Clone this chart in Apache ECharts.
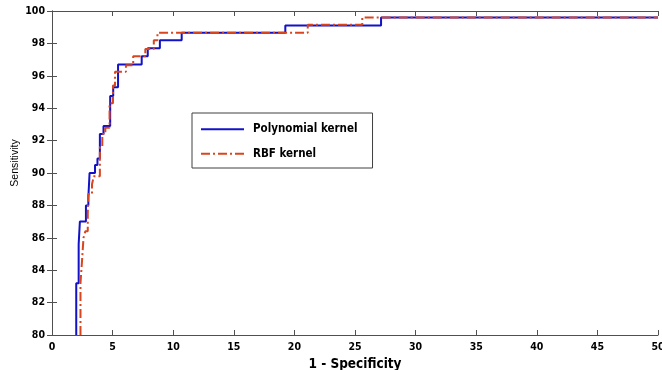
<!DOCTYPE html>
<html>
<head>
<meta charset="utf-8">
<script src="https://cdn.jsdelivr.net/npm/echarts@6/dist/echarts.min.js"></script>
<style>
html,body{margin:0;padding:0;background:#fff;}
#c{width:662px;height:370px;}
</style>
</head>
<body>
<div id="c"></div>
<script>
// Data (step corners: x = 1 - specificity, y = sensitivity)
const polyX = [2.0, 2.0, 2.2, 2.3, 2.8, 3.0, 3.1, 3.55, 3.75, 3.95, 4.25, 4.8, 5.05, 5.45, 7.4, 7.9, 8.9, 10.7, 19.25, 27.15, 50];
const polyY = [80, 83.2, 85.6, 87.0, 88.0, 88.5, 90.0, 90.5, 90.9, 92.4, 92.9, 94.75, 95.3, 96.7, 97.2, 97.7, 98.2, 98.65, 99.1, 99.6, 99.6];
const rbfX = [2.35, 2.35, 2.47, 2.6, 2.75, 2.95, 3.0, 3.3, 3.45, 3.95, 4.15, 4.4, 4.75, 5.03, 5.2, 6.1, 6.7, 7.7, 8.4, 8.7, 21.1, 25.6, 50];
const rbfY = [80, 83.2, 84.5, 86.0, 86.4, 87.5, 88.7, 89.3, 89.8, 91.6, 92.4, 92.8, 94.3, 95.4, 96.25, 96.65, 97.2, 97.65, 98.2, 98.65, 99.15, 99.6, 99.6];
const seriesNames = ['Polynomial kernel', 'RBF kernel'];
const xTitle = '1 - Specificity';
const yTitle = 'Sensitivity';

const toPts = (xs, ys) => xs.map((x, i) => [x, ys[i]]);
const tickFont = {fontFamily: '"DejaVu Sans Condensed","DejaVu Sans",sans-serif', fontWeight: 'bold', fontSize: 10.5, color: '#000'};
const frameLine = {show: true, lineStyle: {color: '#505050', width: 1}};
const inTick = {show: true, inside: true, length: 5, lineStyle: {color: '#505050'}};

const chart = echarts.init(document.getElementById('c'), null, {renderer: 'canvas'});
chart.setOption({
  animation: false,
  backgroundColor: '#fff',
  grid: {left: 52, right: 4, top: 11, bottom: 35, containLabel: false, outerBoundsMode: 'none'},
  legend: {
    left: 192, top: 113, orient: 'vertical',
    data: seriesNames,
    backgroundColor: '#fff', borderColor: '#404040', borderWidth: 1,
    padding: [10.3, 15, 8.3, 8], itemGap: 12.4, itemWidth: 43, itemHeight: 14,
    itemStyle: {opacity: 0},
    textStyle: {fontFamily: '"DejaVu Sans Condensed","DejaVu Sans",sans-serif', fontWeight: 'bold', fontSize: 11.5, color: '#000', padding: [0, 0, 0, 4]}
  },
  xAxis: [
    {type: 'value', min: 0, max: 50, interval: 5, position: 'bottom',
     axisLine: frameLine, axisTick: inTick, splitLine: {show: false},
     axisLabel: Object.assign({margin: 7}, tickFont),
     name: xTitle, nameLocation: 'middle', nameGap: 18,
     nameTextStyle: {fontFamily: '"DejaVu Sans Condensed","DejaVu Sans",sans-serif', fontWeight: 'bold', fontSize: 13.5, color: '#000'}},
    {type: 'value', min: 0, max: 50, interval: 5, position: 'top',
     axisLine: frameLine, axisTick: inTick, splitLine: {show: false}, axisLabel: {show: false}}
  ],
  yAxis: [
    {type: 'value', min: 80, max: 100, interval: 2, position: 'left',
     axisLine: frameLine, axisTick: inTick, splitLine: {show: false},
     axisLabel: Object.assign({margin: 7}, tickFont)},
    {type: 'value', min: 80, max: 100, interval: 2, position: 'right',
     axisLine: frameLine, axisTick: inTick, splitLine: {show: false}, axisLabel: {show: false}}
  ],
  graphic: [{
    type: 'text', x: 15, y: 163, rotation: Math.PI / 2,
    style: {text: yTitle, fill: '#000', font: '10.5px "Liberation Sans", sans-serif', align: 'center', verticalAlign: 'middle'}
  }],
  series: [
    {name: seriesNames[0], type: 'line', step: 'end', data: toPts(polyX, polyY), showSymbol: false, symbol: 'none',
     lineStyle: {color: '#1212c8', width: 2}, itemStyle: {color: '#1212c8'}, z: 2},
    {name: seriesNames[1], type: 'line', step: 'end', data: toPts(rbfX, rbfY), showSymbol: false, symbol: 'none',
     lineStyle: {color: '#d9451e', width: 2, type: [9, 3, 2, 3]}, itemStyle: {color: '#d9451e'}, z: 3}
  ]
});
</script>
</body>
</html>
